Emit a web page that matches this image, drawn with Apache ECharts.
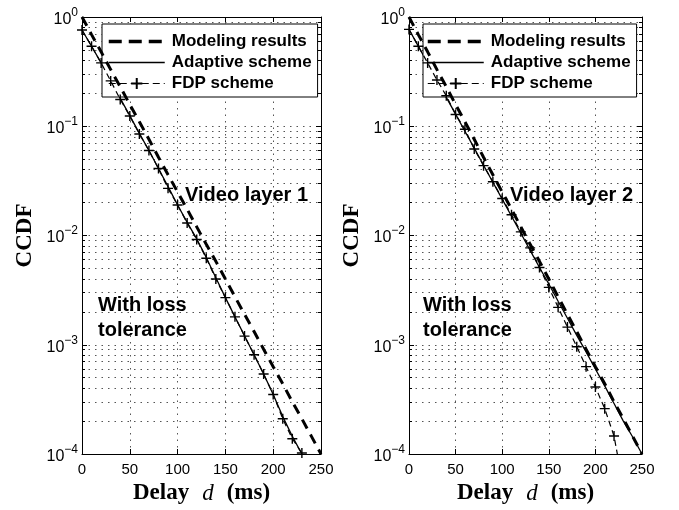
<!DOCTYPE html>
<html><head><meta charset="utf-8">
<script src="https://cdn.jsdelivr.net/npm/echarts@6/dist/echarts.min.js"></script>
<style>html,body{margin:0;padding:0;background:#fff}#c{width:679px;height:510px}</style>
</head><body><div id="c"></div>
<script>
// ---- data ----
const delays = [0,10,20,30,40,50,60,70,80,90,100,110,120,130,140,150,160,170,180,190,200,210,220,230,240,250];
const xTicks = [0,50,100,150,200,250];

// Video layer 1
const model1 = [1,0.69,0.48,0.33,0.23,0.158,0.11,0.076,0.052,0.036,0.025,0.0174,0.012,0.0083,0.0058,0.004,0.00275,0.0019,0.00132,0.00091,0.00063,0.00044,0.0003,0.00021,0.000145,0.0001];
const adapt1 = [0.76,0.54,0.38,0.265,0.18,0.125,0.086,0.06,0.041,0.028,0.019,0.0132,0.0093,0.0063,0.0041,0.0027,0.0018,0.00121,0.00081,0.00054,0.00035,0.00022,0.000145,0.0001];
const fdp1   = [0.76,0.54,0.38,0.26,0.176,0.124,0.085,0.06,0.041,0.027,0.019,0.013,0.0092,0.0062,0.004,0.0027,0.0018,0.0012,0.00081,0.00054,0.00035,0.00021,0.000138,0.000102];

// Video layer 2
const model2 = [1,0.69,0.48,0.33,0.23,0.158,0.11,0.076,0.052,0.036,0.025,0.0174,0.012,0.0083,0.0058,0.004,0.00275,0.0019,0.00132,0.00091,0.00063,0.00044,0.0003,0.00021,0.000145,0.0001];
const adapt2 = [0.77,0.54,0.377,0.263,0.184,0.129,0.09,0.063,0.044,0.0307,0.0215,0.015,0.0105,0.0073,0.0051,0.0036,0.0025,0.00175,0.00122,0.00086,0.0006,0.00042,0.00029,0.0002,0.000143,0.0001];
const fdp2   = [0.77,0.54,0.38,0.265,0.19,0.128,0.094,0.062,0.0436,0.031,0.0218,0.0155,0.0108,0.0077,0.0051,0.00335,0.0022,0.00145,0.00096,0.00063,0.00041,0.00026,0.000146,0.00005];

const legendNames = ['Modeling results','Adaptive scheme','FDP scheme'];
const panelLabels = ['Video layer 1','Video layer 2'];
const noteLines = ['With loss','tolerance'];

// ---- chart ----
const SANS = '"Liberation Sans", Arial, Helvetica, sans-serif';
const SERIF = '"Liberation Serif", "Times New Roman", serif';
const pairs = arr => arr.map((v,i)=>[delays[i], v]);
const plus = 'path://M0,5L10,5M5,0L5,10';
const dotted = {color:'#555', type:[1.5,5], width:1};

const grids = [
  {left:82, top:17, width:239, height:440},
  {left:409, top:17, width:233, height:440}
];

function supLabel(v){
  const e = Math.round(Math.log10(v));
  return '{b|10}{s|' + (e<0 ? '\u2212'+(-e) : e) + '}';
}

const xAxes = [], yAxes = [];
[0,1].forEach(g => {
  xAxes.push({
    gridIndex:g, type:'value', min:0, max:250, interval:50, position:'bottom',
    axisLine:{show:true, onZero:false, lineStyle:{color:'#000', width:1}},
    axisTick:{show:true, inside:true, length:5, lineStyle:{color:'#000'}},
    axisLabel:{show:true, color:'#000', fontFamily:SANS, fontSize:15, margin:8,
      formatter: v => String(xTicks[xTicks.indexOf(v)])},
    splitLine:{show:true, lineStyle:dotted},
    name:'{a|Delay}{i|d}{a|(ms)}', nameLocation:'middle', nameGap:28,
    nameTextStyle:{rich:{
      a:{fontFamily:SERIF, fontWeight:'bold', fontSize:23, color:'#000'},
      i:{fontFamily:SERIF, fontStyle:'italic', fontSize:23, color:'#000', padding:[0,13,0,13]}
    }}
  });
  yAxes.push({
    gridIndex:g, type:'log', logBase:10, min:1e-4, max:1, position:'left',
    axisLine:{show:true, onZero:false, lineStyle:{color:'#000', width:1}},
    axisTick:{show:true, inside:true, length:5, lineStyle:{color:'#000'}},
    minorTick:{show:true, splitNumber:9, length:3, lineStyle:{color:'#000'}},
    minorSplitLine:{show:true, lineStyle:dotted},
    axisLabel:{show:true, margin:4, formatter:supLabel, rich:{
      b:{fontFamily:SANS, fontSize:16, color:'#000', verticalAlign:'bottom'},
      s:{fontFamily:SANS, fontSize:12, color:'#000', verticalAlign:'top', padding:[0,0,9,0]}
    }},
    splitLine:{show:true, lineStyle:dotted},
    name:'CCDF', nameLocation:'middle', nameGap:45,
    nameTextStyle:{fontFamily:SERIF, fontWeight:'bold', fontSize:23, color:'#000'}
  });
});
[0,1].forEach(g => {
  xAxes.push({
    gridIndex:g, type:'value', min:0, max:250, interval:50, position:'top',
    axisLine:{show:true, onZero:false, lineStyle:{color:'#000'}},
    axisTick:{show:true, inside:true, length:5, lineStyle:{color:'#000'}},
    axisLabel:{show:false}, splitLine:{show:false}
  });
  yAxes.push({
    gridIndex:g, type:'log', logBase:10, min:1e-4, max:1, position:'right',
    axisLine:{show:true, onZero:false, lineStyle:{color:'#000'}},
    axisTick:{show:true, inside:true, length:5, lineStyle:{color:'#000'}},
    minorTick:{show:true, splitNumber:9, length:3, lineStyle:{color:'#000'}},
    axisLabel:{show:false}, splitLine:{show:false}
  });
});

const series = [];
[[model1,adapt1,fdp1],[model2,adapt2,fdp2]].forEach((set,g) => {
  series.push({
    name:legendNames[0], type:'line', xAxisIndex:g, yAxisIndex:g, data:pairs(set[0]),
    symbol:'circle', showSymbol:false, z:4, lineStyle:{color:'#000', width:3, type:[10,7]},
    itemStyle:{color:'transparent', borderWidth:0}
  });
  series.push({
    name:legendNames[1], type:'line', xAxisIndex:g, yAxisIndex:g, data:pairs(set[1]),
    symbol:'circle', showSymbol:false, z:3, lineStyle:{color:'#000', width:1.3, type:'solid'},
    itemStyle:{color:'transparent', borderWidth:0}
  });
  series.push({
    name:legendNames[2], type:'line', xAxisIndex:g, yAxisIndex:g, data:pairs(set[2]),
    symbol:plus, symbolSize:10, showAllSymbol:true, z:5,
    lineStyle:{color:'#000', width:1.2, type:[6,4]},
    itemStyle:{color:'#000', borderColor:'#000', borderWidth:1.4}
  });
});

function legendOpt(left, padLeft){
  return {
    orient:'vertical', left:left, top:24, itemWidth:56, itemHeight:14, itemGap:4,
    borderColor:'#000', borderWidth:1, backgroundColor:'#fff', borderRadius:0,
    padding:[9,6,5,padLeft], selectedMode:false,
    data:[
      {name:legendNames[0], lineStyle:{color:'#000', width:3.5, type:[13,7]}},
      {name:legendNames[1], lineStyle:{color:'#000', width:1.3, type:'solid'}},
      {name:legendNames[2], lineStyle:{color:'#000', width:1.2, type:[7,4]}}
    ],
    textStyle:{fontFamily:SANS, fontWeight:'bold', fontSize:17, color:'#000', padding:[0,0,0,2]}
  };
}

const noteStyle = {font:'bold 20px ' + SANS, fill:'#000', verticalAlign:'middle'};
const graphic = [
  {type:'text', x:185, y:195, z:10, style:Object.assign({text:panelLabels[0]}, noteStyle)},
  {type:'text', x:510, y:195, z:10, style:Object.assign({text:panelLabels[1]}, noteStyle)},
  {type:'text', x:98, y:305, z:10, style:Object.assign({text:noteLines[0]}, noteStyle)},
  {type:'text', x:98, y:330, z:10, style:Object.assign({text:noteLines[1]}, noteStyle)},
  {type:'text', x:423, y:305, z:10, style:Object.assign({text:noteLines[0]}, noteStyle)},
  {type:'text', x:423, y:330, z:10, style:Object.assign({text:noteLines[1]}, noteStyle)}
];

const chart = echarts.init(document.getElementById('c'), null, {renderer:'canvas'});
chart.setOption({
  backgroundColor:'#fff', animation:false,
  grid:grids, xAxis:xAxes, yAxis:yAxes, series:series,
  legend:[legendOpt(102,5), legendOpt(423,3)],
  graphic:graphic
});
</script></body></html>
